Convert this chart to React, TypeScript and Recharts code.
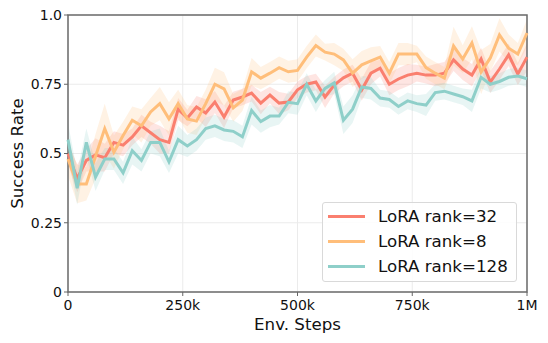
import {
  Area,
  CartesianGrid,
  ComposedChart,
  Label,
  Line,
  ReferenceArea,
  XAxis,
  YAxis,
} from "recharts";

const steps = [
  0, 20000, 40000, 60000, 80000, 100000, 120000, 140000, 160000, 180000,
  200000, 220000, 240000, 260000, 280000, 300000, 320000, 340000, 360000, 380000,
  400000, 420000, 440000, 460000, 480000, 500000, 520000, 540000, 560000, 580000,
  600000, 620000, 640000, 660000, 680000, 700000, 720000, 740000, 760000, 780000,
  800000, 820000, 840000, 860000, 880000, 900000, 920000, 940000, 960000, 980000,
  1000000,
];

const rank32 = [
  0.5, 0.41, 0.475, 0.495, 0.485, 0.54, 0.53, 0.56, 0.6, 0.575,
  0.55, 0.54, 0.66, 0.628, 0.668, 0.646, 0.686, 0.632, 0.693, 0.704,
  0.718, 0.682, 0.711, 0.682, 0.686, 0.73, 0.75, 0.758, 0.704, 0.747,
  0.773, 0.79, 0.73, 0.79, 0.808, 0.75, 0.769, 0.783, 0.79, 0.783,
  0.783, 0.79, 0.838, 0.805, 0.783, 0.841, 0.758, 0.805, 0.856, 0.787,
  0.848,
];
const rank8 = [
  0.48, 0.39, 0.39, 0.49, 0.59, 0.505, 0.565, 0.62, 0.6, 0.65,
  0.68, 0.625, 0.68, 0.625, 0.617, 0.68, 0.75, 0.733, 0.665, 0.693,
  0.795, 0.772, 0.79, 0.81, 0.795, 0.8, 0.848, 0.89, 0.866, 0.859,
  0.838, 0.79, 0.82, 0.834, 0.848, 0.79, 0.859, 0.859, 0.859, 0.81,
  0.79, 0.772, 0.888, 0.841, 0.899, 0.794, 0.845, 0.928, 0.88, 0.859,
  0.935,
];
const rank128 = [
  0.55, 0.375, 0.54, 0.415, 0.48, 0.48, 0.43, 0.51, 0.475, 0.54,
  0.54, 0.47, 0.55, 0.527, 0.55, 0.59, 0.6, 0.585, 0.58, 0.56,
  0.655, 0.615, 0.635, 0.635, 0.685, 0.68, 0.75, 0.69, 0.735, 0.755,
  0.62, 0.66, 0.74, 0.735, 0.7, 0.695, 0.67, 0.69, 0.68, 0.675,
  0.72, 0.725, 0.715, 0.705, 0.69, 0.775, 0.75, 0.76, 0.775, 0.78,
  0.77,
];

// half-width of the shaded band around each mean
const spread32 = [
  0.04, 0.05, 0.04, 0.06, 0.05, 0.04, 0.04, 0.03, 0.04, 0.04,
  0.05, 0.04, 0.04, 0.03, 0.04, 0.05, 0.04, 0.04, 0.03, 0.03,
  0.03, 0.04, 0.03, 0.04, 0.03, 0.03, 0.03, 0.03, 0.04, 0.03,
  0.03, 0.03, 0.04, 0.04, 0.03, 0.04, 0.04, 0.04, 0.03, 0.03,
  0.04, 0.04, 0.04, 0.04, 0.04, 0.04, 0.04, 0.04, 0.04, 0.04,
  0.05,
];
const spread8 = [
  0.06, 0.07, 0.06, 0.08, 0.09, 0.06, 0.05, 0.05, 0.06, 0.05,
  0.06, 0.06, 0.05, 0.05, 0.05, 0.05, 0.06, 0.06, 0.05, 0.04,
  0.05, 0.04, 0.04, 0.04, 0.04, 0.04, 0.04, 0.04, 0.03, 0.04,
  0.04, 0.05, 0.05, 0.05, 0.04, 0.04, 0.04, 0.04, 0.03, 0.04,
  0.04, 0.04, 0.07, 0.05, 0.06, 0.08, 0.05, 0.06, 0.05, 0.04,
  0.05,
];
const spread128 = [
  0.06, 0.06, 0.05, 0.05, 0.04, 0.04, 0.04, 0.05, 0.04, 0.04,
  0.05, 0.04, 0.05, 0.04, 0.04, 0.04, 0.04, 0.04, 0.04, 0.04,
  0.05, 0.04, 0.04, 0.03, 0.04, 0.04, 0.04, 0.04, 0.03, 0.04,
  0.05, 0.05, 0.04, 0.04, 0.03, 0.03, 0.03, 0.03, 0.03, 0.04,
  0.03, 0.03, 0.03, 0.03, 0.04, 0.04, 0.03, 0.03, 0.03, 0.03,
  0.03,
];

const xTicks = [0, 250000, 500000, 750000, 1000000];
const xTickLabels = ["0", "250k", "500k", "750k", "1M"];
const yTicks = [0, 0.25, 0.5, 0.75, 1];
const yTickLabels = ["0", "0.25", "0.5", "0.75", "1.0"];

const series = [
  { key: "r32", name: "LoRA rank=32", color: "#FA7F6F", mean: rank32, spread: spread32 },
  { key: "r8", name: "LoRA rank=8", color: "#FFBE7A", mean: rank8, spread: spread8 },
  { key: "r128", name: "LoRA rank=128", color: "#8ECFC9", mean: rank128, spread: spread128 },
];

const data = steps.map((step, i) => {
  const row: Record<string, number | number[]> = { step };
  series.forEach((s) => {
    row[s.key] = s.mean[i];
    row[s.key + "Band"] = [s.mean[i] - s.spread[i], s.mean[i] + s.spread[i]];
  });
  return row;
});

const font = "'DejaVu Sans', sans-serif";

function LegendBox() {
  return (
    <div
      style={{
        position: "absolute",
        left: 322,
        top: 202,
        width: 195,
        height: 80,
        boxSizing: "border-box",
        border: "1px solid #d9d9d9",
        borderRadius: 3,
        background: "rgba(255,255,255,0.85)",
        padding: "1px 0 0 5px",
        fontFamily: font,
        fontSize: 16.67,
        color: "#111",
      }}
    >
      {series.map((s) => (
        <div key={s.key} style={{ display: "flex", alignItems: "center", height: 25 }}>
          <div style={{ width: 37, height: 3, background: s.color, marginRight: 13 }} />
          <span>{s.name}</span>
        </div>
      ))}
    </div>
  );
}

export default function App() {
  return (
    <div style={{ position: "absolute", left: 0, top: 0, width: 548, height: 343, background: "#fff" }}>
      <ComposedChart
        width={548}
        height={343}
        data={data}
        margin={{ top: 15, right: 21, left: 0, bottom: 0 }}
      >
        <CartesianGrid stroke="#ebebeb" strokeWidth={1} />
        <XAxis
          dataKey="step"
          type="number"
          domain={[0, 1000000]}
          ticks={xTicks}
          tickFormatter={(v: number) => xTickLabels[xTicks.indexOf(v)]}
          axisLine={false}
          tickLine={{ stroke: "#666" }}
          tickSize={4}
          tickMargin={4}
          height={51}
          tick={{ fill: "#111", fontSize: 14, fontFamily: font }}
        >
          <Label
            value="Env. Steps"
            position="insideBottom"
            offset={13}
            style={{ fill: "#111", fontSize: 16.67, fontFamily: font }}
          />
        </XAxis>
        <YAxis
          type="number"
          domain={[0, 1]}
          ticks={yTicks}
          tickFormatter={(v: number) => yTickLabels[yTicks.indexOf(v)]}
          axisLine={false}
          tickLine={{ stroke: "#666" }}
          tickSize={4}
          width={68}
          tick={{ fill: "#111", fontSize: 14, fontFamily: font }}
        >
          <Label
            value="Success Rate"
            angle={-90}
            position="insideLeft"
            offset={17}
            style={{ fill: "#111", fontSize: 16.67, fontFamily: font, textAnchor: "middle" }}
          />
        </YAxis>
        {series.map((s) => (
          <Area
            key={s.key + "Band"}
            type="linear"
            dataKey={s.key + "Band"}
            stroke="none"
            fill={s.color}
            fillOpacity={0.2}
            isAnimationActive={false}
            activeDot={false}
          />
        ))}
        {series.map((s) => (
          <Line
            key={s.key}
            type="linear"
            dataKey={s.key}
            name={s.name}
            stroke={s.color}
            strokeWidth={3}
            dot={false}
            activeDot={false}
            isAnimationActive={false}
          />
        ))}
        <ReferenceArea
          x1={0}
          x2={1000000}
          y1={0}
          y2={1}
          fill="none"
          stroke="#6b6b6b"
          strokeWidth={1.5}
          ifOverflow="visible"
        />
      </ComposedChart>
      <LegendBox />
    </div>
  );
}
